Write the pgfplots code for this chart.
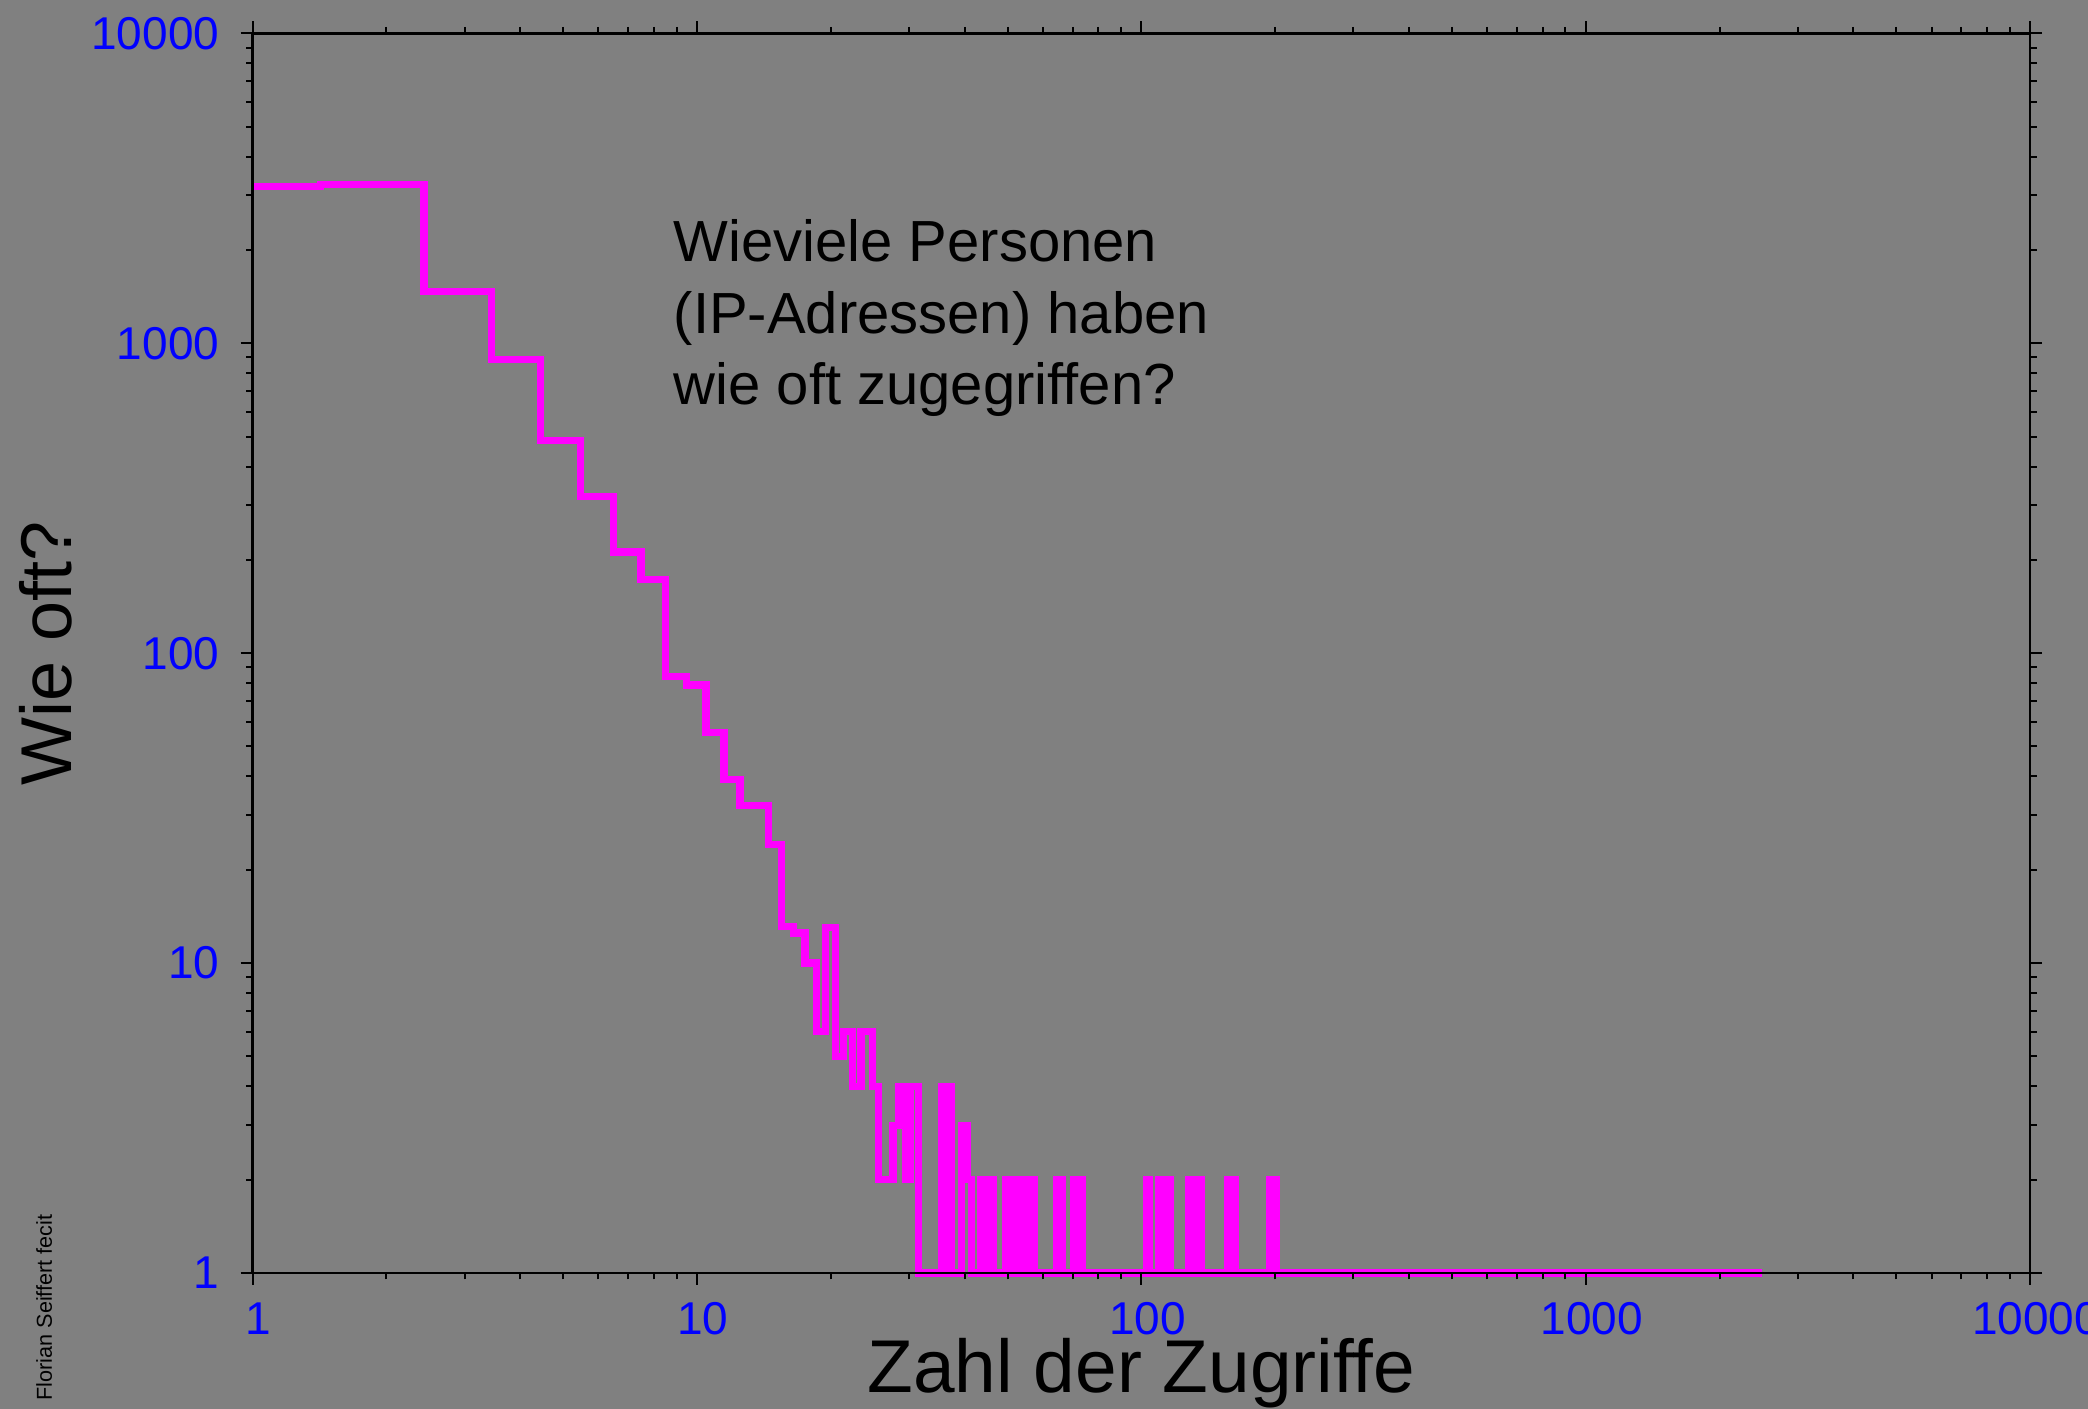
\documentclass[border=0pt]{standalone}
\usepackage{fontspec}
\setmainfont{Liberation Sans}
\usepackage{pgfplots}
\pgfplotsset{compat=1.18}
\definecolor{bggray}{RGB}{128,128,128}
\definecolor{magline}{RGB}{255,0,255}

\begin{document}
\begin{tikzpicture}
% page = reference frame, grey background
\useasboundingbox (-63.15pt,-34pt) rectangle (458.85pt,318.25pt);
\fill[bggray] (-63.15pt,-34pt) rectangle (458.85pt,318.25pt);
\begin{axis}[
    at={(0,0)}, anchor=south west,
    scale only axis, width=444.4pt, height=309.9pt,
    xmode=log, ymode=log,
    xmin=1, xmax=10000, ymin=1, ymax=10000,
    xtick={1,10,100,1000,10000}, xticklabels={1,10,100,1000,10000},
    ytick={1,10,100,1000,10000}, yticklabels={1,10,100,1000,10000},
    tick align=outside, tick pos=both,
    major tick length=3pt, minor tick length=1.6pt,
    every tick/.style={black, line width=0.5pt},
    axis line style={black, line width=0.6pt},
    tick label style={font=\fontsize{11.5}{13}\selectfont, text=blue, inner sep=0pt},
    xticklabel style={anchor=north, yshift=-4.2pt, xshift=1.5pt},
    yticklabel style={anchor=east, xshift=-5.15pt},
    axis on top, clip=false,
]
\addplot[magline, line width=1.8pt, const plot] coordinates {
    (1,3200) (1.42,3260) (2.43,1468) (3.45,884) (4.45,486) (5.46,320)
    (6.48,212) (7.48,173) (8.5,84) (9.48,79) (10.48,55.6) (11.5,39.2)
    (12.5,32.2) (14.5,24.2) (15.5,13.1) (16.5,12.5) (17.5,10) (18.6,6)
    (19.5,13) (20.5,5) (21.4,6) (22.4,4) (23.4,6) (24.8,4) (25.6,2)
    (27.6,3) (28.4,4) (29.4,2) (30.2,4) (31.5,1) (35.5,4) (36.4,1) (36.5,4) (37.3,1)
    (39.4,3) (40.5,2) (41.5,1) (43.5,2) (44.5,1) (45.5,2) (46.5,1)
    (49.5,2) (50.5,1) (52.5,2) (53.5,1) (54.5,2) (55.5,1) (56.5,2) (57.5,1)
    (64.5,2) (66.5,1) (70.5,2) (71.5,1) (72.5,2) (73.5,1)
    (102.5,2) (104.5,1) (109.5,2) (111,1) (112,2) (113.5,1) (114.5,2) (116.5,1)
    (127.5,2) (129.5,1) (130.5,2) (132.5,1) (133.5,2) (136.5,1)
    (156.5,2) (159.5,1) (160,2) (162.5,1)
    (194.5,2) (198,1) (198.5,2) (201.5,1) (2494,1)
};
\end{axis}
% labels
\node[anchor=base, font=\fontsize{18.7}{20}\selectfont] at (222.2pt,-29.9pt) {Zahl der Zugriffe};
\node[rotate=90, anchor=base, font=\fontsize{18}{20}\selectfont] at (-45.2pt,154.95pt) {Wie oft?};
\node[rotate=90, anchor=base, font=\fontsize{5.4}{6}\selectfont] at (-50.2pt,-8.6pt) {Florian Seiffert fecit};
\begin{scope}[every node/.style={anchor=base west, inner sep=0pt, font=\fontsize{14.5}{18}\selectfont}]
\node at (105.1pt,252.85pt) {Wieviele Personen};
\node at (105.1pt,234.95pt) {(IP-Adressen) haben};
\node at (105.1pt,217.05pt) {wie oft zugegriffen?};
\end{scope}
\end{tikzpicture}
\end{document}
